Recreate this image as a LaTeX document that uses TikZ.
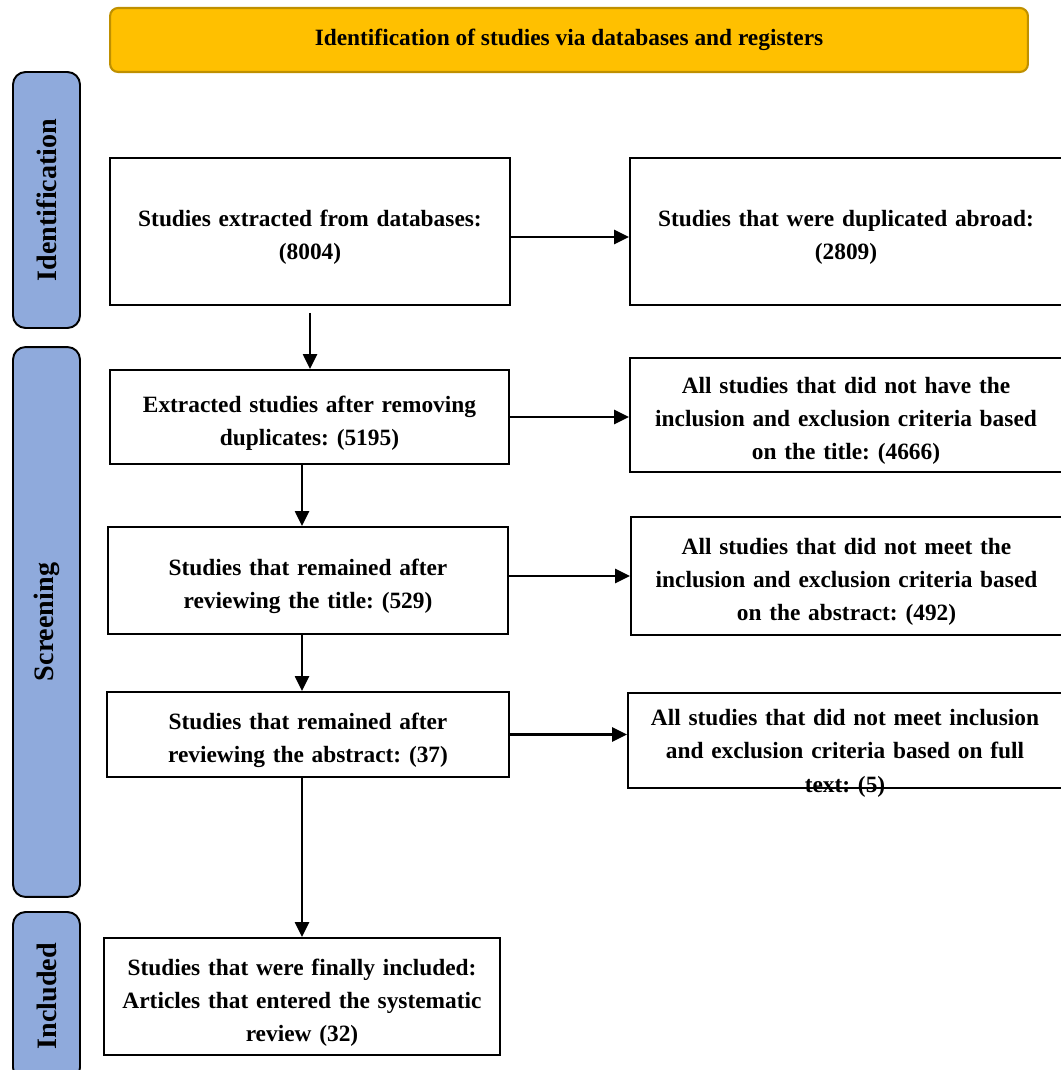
\documentclass[tikz,border=0pt]{standalone}
\usepackage{fontspec}
\setmainfont{Liberation Serif}
\usepackage{xcolor}
\definecolor{prismagold}{RGB}{255, 192, 0}
\definecolor{prismagoldline}{RGB}{191, 144, 0}
\definecolor{prismablue}{RGB}{143, 170, 220}
\usetikzlibrary{arrows.meta,positioning}
\frenchspacing
\tikzset{
    stagebox/.style={draw, line width=1.1pt, align=center, inner sep=2pt, font=\fontsize{13.3}{18.8}\selectfont\bfseries, execute at begin node={\rule{0pt}{0.57cm}}},
    phasebox/.style={draw, fill=prismablue, line width=1.1pt, rounded corners=0.25cm, rotate=90, minimum height=1.34cm, font=\fontsize{16}{18}\selectfont\bfseries},
    flow/.style={-{Triangle[length=0.3cm,width=0.28cm]}, line width=1.4pt}
}

\begin{document}
\begin{tikzpicture}[x=0.02cm, y=-0.02cm]
    \useasboundingbox (0,0) rectangle (1060,1070);
    \node[draw=prismagoldline, fill=prismagold, line width=1.2pt, rounded corners=0.16cm, minimum width=18.36cm, minimum height=1.28cm, font=\fontsize{13.3}{16}\selectfont\bfseries] (banner) at (569,40) {Identification of studies via databases and registers};
    \node[phasebox, minimum width=5.12cm] (ident) at (46.5,200) {Identification};
    \node[phasebox, minimum width=11cm] (screen) at (46.5,622) {Screening};
    \node[phasebox, minimum width=3.36cm] (incl) at (46.5,996) {Included};
    \node[stagebox, text width=7.6cm, minimum width=8cm, minimum height=2.94cm] (b1) at (310,231.5) {Studies extracted from databases:\\(8004)};
    \node[stagebox, text width=8.3cm, minimum width=8.64cm, minimum height=2.94cm] (r1) at (846,231.5) {Studies that were duplicated abroad:\\(2809)};
    \node[stagebox, text width=7.6cm, minimum width=7.98cm, minimum height=1.88cm] (b2) at (309.5,417) {Extracted studies after removing\\duplicates: (5195)};
    \node[stagebox, text width=8.3cm, minimum width=8.64cm, minimum height=2.28cm] (r2) at (846,415) {All studies that did not have the\\inclusion and exclusion criteria based\\on the title: (4666)};
    \node[stagebox, text width=7.6cm, minimum width=8cm, minimum height=2.14cm] (b3) at (308,580.5) {Studies that remained after\\reviewing the title: (529)};
    \node[stagebox, text width=8.3cm, minimum width=8.62cm, minimum height=2.36cm] (r3) at (846.5,576) {All studies that did not meet the\\inclusion and exclusion criteria based\\on the abstract: (492)};
    \node[stagebox, text width=7.6cm, minimum width=8.04cm, minimum height=1.7cm] (b4) at (308,734.5) {Studies that remained after\\reviewing the abstract: (37)};
    \node[stagebox, text width=8.3cm, minimum width=8.68cm, inner ysep=0pt, text height=0.66cm, text depth=1.24cm, anchor=north, execute at begin node={}] (r4) at (845,692) {All studies that did not meet inclusion\\and exclusion criteria based on full\\text: (5)};
    \node[stagebox, text width=7.6cm, minimum width=7.92cm, minimum height=2.34cm] (b5) at (302,996.5) {Studies that were finally included:\\Articles that entered the systematic\\review (32)};
    \draw[flow] ([yshift=-0.11cm]b1.east) -- ([yshift=-0.11cm]b1.east -| r1.west);
    \draw[flow] (b2.east) -- (b2.east -| r2.west);
    \draw[flow] (b3.east |- r3.west) -- (r3.west);
    \draw[flow] (b4.east) -- (b4.east -| r4.west);
    \draw[flow, shorten <=0.14cm] (b1.south) -- (b1.south |- b2.north);
    \draw[flow] (b2.south -| b5.north) -- (b3.north -| b5.north);
    \draw[flow] (b3.south -| b5.north) -- (b4.north -| b5.north);
    \draw[flow] (b4.south -| b5.north) -- (b5.north);
\end{tikzpicture}
\end{document}
